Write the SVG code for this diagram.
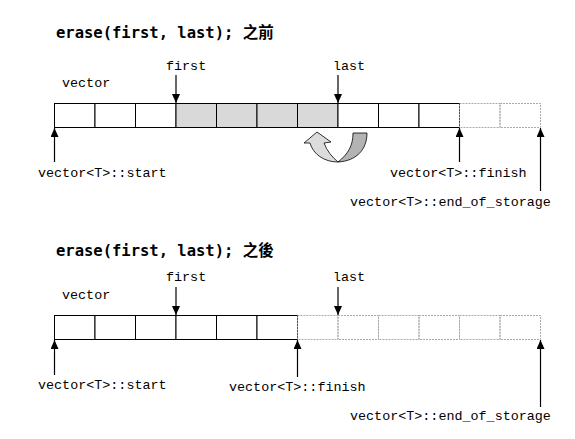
<svg xmlns="http://www.w3.org/2000/svg" width="575" height="439" viewBox="0 0 575 439">
<style>
.title{font-family:"DejaVu Sans Mono","Noto Sans CJK TC",monospace;font-weight:bold;font-size:15.5px;fill:#000}
.lbl{font-family:"Liberation Mono","DejaVu Sans Mono",monospace;font-size:13.4px;fill:#000}
.cell{fill:#fff;stroke:#000;stroke-width:1}
.gcell{fill:#d9d9d9;stroke:#000;stroke-width:1}
.dcell{fill:none;stroke:#aaa;stroke-width:1;stroke-dasharray:2,1}
.arr{stroke:#000;stroke-width:1.2;fill:none;marker-end:url(#ah)}
</style>
<defs>
<marker id="ah" markerUnits="userSpaceOnUse" markerWidth="10" markerHeight="10" refX="9" refY="4" orient="auto">
<path d="M0,0 L9,4 L0,8 Z" fill="#000"/>
</marker>
</defs>
<rect width="575" height="439" fill="#fff"/>

<g id="title-before"><text class="title" x="56" y="38">erase(first, last); 之前</text></g>
<g id="label-vector-1"><text class="lbl" x="62" y="87">vector</text></g>
<g id="label-first-1"><text class="lbl" x="166" y="70">first</text></g>
<g id="label-last-1"><text class="lbl" x="333" y="70">last</text></g>

<g id="array-before">
<rect class="cell" x="54.5" y="103.5" width="40.5" height="24"/>
<rect class="cell" x="95" y="103.5" width="40.5" height="24"/>
<rect class="cell" x="135.5" y="103.5" width="40.5" height="24"/>
<rect class="gcell" x="176" y="103.5" width="40.5" height="24"/>
<rect class="gcell" x="216.5" y="103.5" width="40.5" height="24"/>
<rect class="gcell" x="257" y="103.5" width="40.5" height="24"/>
<rect class="gcell" x="297.5" y="103.5" width="40.5" height="24"/>
<rect class="cell" x="338" y="103.5" width="40.5" height="24"/>
<rect class="cell" x="378.5" y="103.5" width="40.5" height="24"/>
<rect class="cell" x="419" y="103.5" width="40.5" height="24"/>
<rect class="dcell" x="459.5" y="103.5" width="40.5" height="24"/>
<rect class="dcell" x="500" y="103.5" width="40.5" height="24"/>
</g>

<g id="move-arrow">
<path d="M353,133 L367,133 C367,150 356,161 338,162 C348,154 353,146 353,133 Z" fill="#b3b3b3" stroke="#000" stroke-width="0.8"/>
<path d="M317,132 L331,142 L324,143 C327,151 332,157 338,162 C324,162 313,154 310,143 L304,143 Z" fill="#dcdcdc" stroke="#000" stroke-width="0.8"/>
</g>

<g id="label-start-1"><text class="lbl" x="38" y="177">vector&lt;T&gt;::start</text></g>
<g id="label-finish-1"><text class="lbl" x="390" y="177">vector&lt;T&gt;::finish</text></g>
<g id="label-eos-1"><text class="lbl" x="350" y="206">vector&lt;T&gt;::end_of_storage</text></g>

<g id="title-after"><text class="title" x="56" y="256">erase(first, last); 之後</text></g>
<g id="label-vector-2"><text class="lbl" x="62" y="299">vector</text></g>
<g id="label-first-2"><text class="lbl" x="166" y="281">first</text></g>
<g id="label-last-2"><text class="lbl" x="333" y="281">last</text></g>

<g id="array-after">
<rect class="cell" x="54.5" y="315.5" width="40.5" height="24"/>
<rect class="cell" x="95" y="315.5" width="40.5" height="24"/>
<rect class="cell" x="135.5" y="315.5" width="40.5" height="24"/>
<rect class="cell" x="176" y="315.5" width="40.5" height="24"/>
<rect class="cell" x="216.5" y="315.5" width="40.5" height="24"/>
<rect class="cell" x="257" y="315.5" width="40.5" height="24"/>
<rect class="dcell" x="297.5" y="315.5" width="40.5" height="24"/>
<rect class="dcell" x="338" y="315.5" width="40.5" height="24"/>
<rect class="dcell" x="378.5" y="315.5" width="40.5" height="24"/>
<rect class="dcell" x="419" y="315.5" width="40.5" height="24"/>
<rect class="dcell" x="459.5" y="315.5" width="40.5" height="24"/>
<rect class="dcell" x="500" y="315.5" width="40.5" height="24"/>
</g>

<g id="label-start-2"><text class="lbl" x="38" y="389">vector&lt;T&gt;::start</text></g>
<g id="label-finish-2"><text class="lbl" x="229" y="391">vector&lt;T&gt;::finish</text></g>
<g id="label-eos-2"><text class="lbl" x="350" y="420">vector&lt;T&gt;::end_of_storage</text></g>

<g id="connectors">
<line class="arr" x1="176" y1="75" x2="176" y2="103"/>
<line class="arr" x1="338" y1="75" x2="338" y2="103"/>
<line class="arr" x1="54.5" y1="162" x2="54.5" y2="128"/>
<line class="arr" x1="459.5" y1="162" x2="459.5" y2="128"/>
<line class="arr" x1="540.5" y1="191" x2="540.5" y2="128"/>
<line class="arr" x1="176" y1="287" x2="176" y2="315"/>
<line class="arr" x1="338" y1="287" x2="338" y2="315"/>
<line class="arr" x1="54.5" y1="375" x2="54.5" y2="340"/>
<line class="arr" x1="297.5" y1="377" x2="297.5" y2="340"/>
<line class="arr" x1="540.5" y1="407" x2="540.5" y2="340"/>
</g>
</svg>
